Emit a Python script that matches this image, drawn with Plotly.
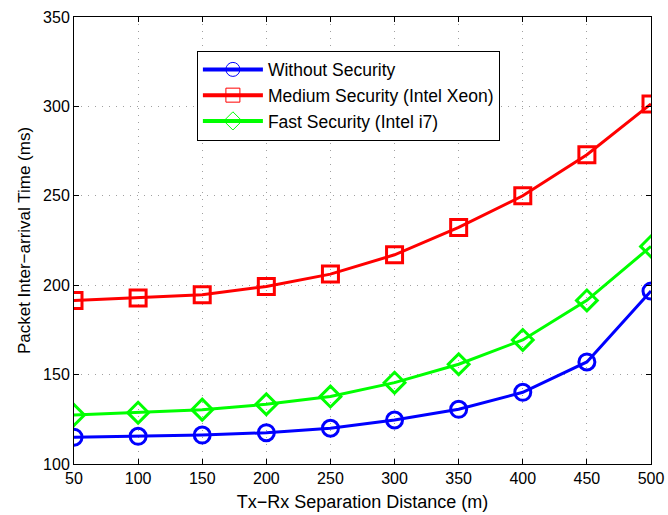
import plotly.graph_objects as go

distance_m = [50, 100, 150, 200, 250, 300, 350, 400, 450, 500]
without_security = [115.0, 115.5, 116.2, 117.5, 120.0, 124.6, 130.6, 140.1, 157.1, 196.7]
medium_security_xeon = [191.4, 192.8, 194.6, 199.3, 206.2, 217.0, 232.3, 250.0, 273.0, 301.4]
fast_security_i7 = [127.4, 128.7, 130.4, 133.4, 137.7, 145.5, 155.8, 169.4, 191.5, 221.7]

x_ticks = [50, 100, 150, 200, 250, 300, 350, 400, 450, 500]
y_ticks = [100, 150, 200, 250, 300, 350]

series = [
    ("Without Security", without_security, "#0000ff", "circle-open"),
    ("Medium Security (Intel Xeon)", medium_security_xeon, "#ff0000", "square-open"),
    ("Fast Security (Intel i7)", fast_security_i7, "#00ff00", "diamond-open"),
]

fig = go.Figure()
for name, vals, color, sym in series:
    # plotted curve with heavy markers
    fig.add_trace(go.Scatter(
        x=distance_m, y=vals, name=name, mode="lines+markers", showlegend=False,
        line=dict(color=color, width=3),
        marker=dict(symbol=sym, size=16, color=color, line=dict(width=3, color=color)),
    ))
    # legend entry with a thin-outlined marker
    fig.add_trace(go.Scatter(
        x=[None], y=[None], name=name, mode="lines+markers",
        line=dict(color=color, width=4),
        marker=dict(symbol=sym, size=14, color=color, line=dict(width=1, color=color)),
    ))

axis_common = dict(
    showline=True, linecolor="black", linewidth=1, mirror="ticks",
    ticks="inside", ticklen=5, tickcolor="black",
    showgrid=True, gridcolor="#a0a0a0", griddash="1px,6px", gridwidth=1,
    zeroline=False, tickfont=dict(size=16, color="black"), automargin=False,
)

fig.update_layout(
    width=668, height=515,
    margin=dict(l=74, r=17, t=17, b=51, autoexpand=False),
    paper_bgcolor="white", plot_bgcolor="white",
    font=dict(family="Liberation Sans, Arial, sans-serif", color="black"),
    xaxis=dict(range=[50, 500], tickvals=x_ticks,
               title=dict(text="Tx\u2212Rx Separation Distance (m)", font=dict(size=18), standoff=9),
               **axis_common),
    yaxis=dict(range=[100, 350], tickvals=y_ticks,
               title=dict(text="Packet Inter\u2212arrival Time (ms)", font=dict(size=17), standoff=8),
               **axis_common),
    legend=dict(x=0.213, y=0.925, xanchor="left", yanchor="top",
                bgcolor="white", bordercolor="black", borderwidth=1,
                font=dict(size=17.5), itemwidth=60, tracegroupgap=0),
    showlegend=True,
)

fig.write_html("out.html")
